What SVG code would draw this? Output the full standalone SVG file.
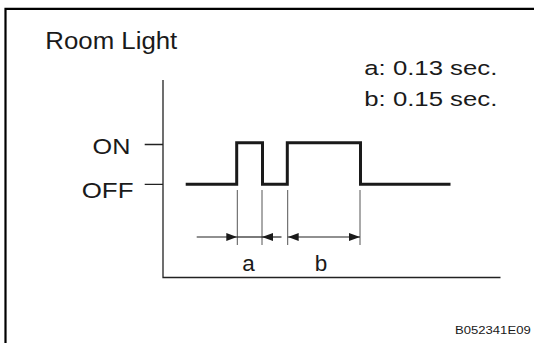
<svg xmlns="http://www.w3.org/2000/svg" width="534" height="343" viewBox="0 0 534 343">
<style>
text{font-family:"Liberation Sans",Arial,sans-serif;fill:#1a1a1a}
.ax{stroke:#222;stroke-width:1.3;fill:none}
.sig{stroke:#1a1a1a;stroke-width:3;fill:none;stroke-linejoin:miter}
.ext{stroke:#555;stroke-width:1;fill:none}
.dim{stroke:#222;stroke-width:1.2;fill:none}
</style>
<defs>
<marker id="ah" viewBox="0 0 11 8" refX="11" refY="4" markerWidth="11" markerHeight="8" markerUnits="userSpaceOnUse" orient="auto-start-reverse">
<path d="M0,0 L11,4 L0,8 Z" fill="#1a1a1a"/>
</marker>
</defs>
<rect width="534" height="343" fill="#fff"/>
<path d="M5.5,343 V8.8 H534" fill="none" stroke="#000" stroke-width="2.2"/>
<g id="title"><text x="45.3" y="49.3" font-size="23.5" textLength="132" lengthAdjust="spacingAndGlyphs">Room Light</text></g>
<g id="legend">
<text x="364.3" y="75.3" font-size="20.5" textLength="133" lengthAdjust="spacingAndGlyphs">a: 0.13 sec.</text>
<text x="364.3" y="105.5" font-size="20.5" textLength="133" lengthAdjust="spacingAndGlyphs">b: 0.15 sec.</text>
</g>
<g id="axes">
<path class="ax" d="M163,80 V277.5 H500.5"/>
<path class="ax" d="M144.7,144.5 H163 M144.7,184.3 H163"/>
<text x="92.6" y="153.5" font-size="21.5" textLength="37.8" lengthAdjust="spacingAndGlyphs">ON</text>
<text x="81.7" y="197.5" font-size="21.5" textLength="51.8" lengthAdjust="spacingAndGlyphs">OFF</text>
</g>
<g id="signal">
<path class="sig" d="M185.7,184.3 H236.7 V142.7 H262.5 V184.3 H287.3 V142.7 H360.5 V184.3 H450.5"/>
</g>
<g id="connectors">
<path class="ext" d="M237.3,190 V245 M262,190 V245 M287.7,190 V245 M360,190 V245"/>
<path class="dim" d="M196.7,237 H237.3" marker-end="url(#ah)"/>
<path class="dim" d="M237.3,237 H262"/>
<path class="dim" d="M281.5,237 H262" marker-end="url(#ah)"/>
<path class="dim" d="M287.7,237 H360" marker-start="url(#ah)" marker-end="url(#ah)"/>
</g>
<g id="labels">
<text x="248.6" y="270.5" font-size="22.5" text-anchor="middle">a</text>
<text x="321" y="270.5" font-size="22.5" text-anchor="middle">b</text>
</g>
<g id="code"><text x="455" y="334" font-size="10.5" textLength="75.7" lengthAdjust="spacingAndGlyphs">B052341E09</text></g>
</svg>
